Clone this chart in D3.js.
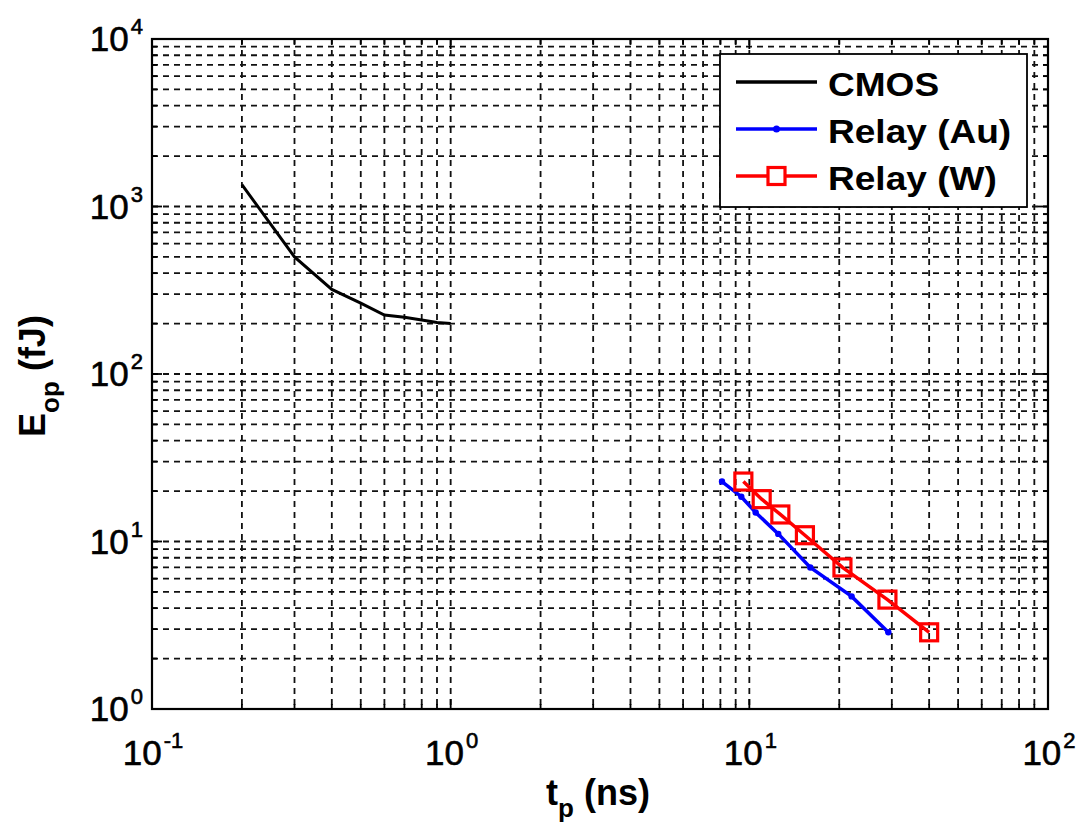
<!DOCTYPE html>
<html>
<head>
<meta charset="utf-8">
<script src="https://cdn.jsdelivr.net/npm/d3@7"></script>
<style>
  body { margin: 0; background: #fff; }
  text { font-family: Arial, "Liberation Sans", sans-serif; fill: #000; }
</style>
</head>
<body>
<svg id="chart" width="1077" height="830"></svg>
<script>
// Switching energy vs. propagation delay
const cmosTp = [0.2, 0.3, 0.4, 0.5, 0.6, 0.7, 0.8, 0.9, 1.0];
const cmosE  = [1350, 500, 320, 265, 225, 218, 210, 203, 200];

const auTp = [8.1, 9.4, 10.5, 12.5, 16, 22, 29.2];
const auE  = [22.8, 18.5, 14.9, 11.1, 7.0, 4.7, 2.87];

const wTp = [9.55, 11.0, 12.7, 15.35, 20.5, 29.0, 40.0];
const wE  = [22.8, 17.9, 14.5, 10.9, 7.0, 4.5, 2.87];

const seriesNames = ["CMOS", "Relay (Au)", "Relay (W)"];
const seriesColors = ["#000000", "#0000ff", "#ff0000"];

const xDecades = [-1, 0, 1, 2];
const yDecades = [0, 1, 2, 3, 4];
const xLabel = ["t", "p", " (ns)"];
const yLabel = ["E", "op", " (fJ)"];

const svg = d3.select("#chart");
const plot = { left: 152, right: 1048, top: 39, bottom: 709 };

const x = d3.scaleLog().domain([0.1, 100]).range([plot.left, plot.right]);
const y = d3.scaleLog().domain([1, 1e4]).range([plot.bottom, plot.top]);

// all grid values (1..9 within each decade)
function logTicks(decades) {
  const out = [];
  for (let i = 0; i < decades.length; i++) {
    const d = decades[i];
    if (i === decades.length - 1) { out.push({ v: Math.pow(10, d), major: true }); break; }
    for (let m = 1; m <= 9; m++) out.push({ v: m * Math.pow(10, d), major: m === 1 });
  }
  return out;
}
const xt = logTicks(xDecades);
const yt = logTicks(yDecades);

const grid = svg.append("g")
  .attr("stroke", "#111").attr("stroke-width", 1.8)
  .attr("stroke-dasharray", "6,5").attr("fill", "none");

xt.filter(t => t.v > 0.1 && t.v < 100).forEach(t => {
  grid.append("line")
    .attr("x1", x(t.v)).attr("x2", x(t.v))
    .attr("y1", plot.top).attr("y2", plot.bottom);
});
yt.filter(t => t.v > 1 && t.v < 1e4).forEach(t => {
  grid.append("line")
    .attr("x1", plot.left).attr("x2", plot.right)
    .attr("y1", y(t.v)).attr("y2", y(t.v));
});

// inward ticks on all four sides
const ticks = svg.append("g").attr("stroke", "#000").attr("stroke-width", 1.8);
xt.forEach(t => {
  const len = t.major ? 10 : 5;
  const px = x(t.v);
  ticks.append("line").attr("x1", px).attr("x2", px).attr("y1", plot.bottom).attr("y2", plot.bottom - len);
  ticks.append("line").attr("x1", px).attr("x2", px).attr("y1", plot.top).attr("y2", plot.top + len);
});
yt.forEach(t => {
  const len = t.major ? 10 : 5;
  const py = y(t.v);
  ticks.append("line").attr("x1", plot.left).attr("x2", plot.left + len).attr("y1", py).attr("y2", py);
  ticks.append("line").attr("x1", plot.right).attr("x2", plot.right - len).attr("y1", py).attr("y2", py);
});

// axes box
svg.append("rect")
  .attr("x", plot.left).attr("y", plot.top)
  .attr("width", plot.right - plot.left).attr("height", plot.bottom - plot.top)
  .attr("fill", "none").attr("stroke", "#000").attr("stroke-width", 2.2);

// tick labels: 10^n
function powerLabel(g, exp, px, py, anchor) {
  const t = g.append("text").attr("x", px).attr("y", py)
    .attr("text-anchor", anchor).attr("font-size", 35)
    .attr("stroke", "#000").attr("stroke-width", 0.6);
  t.append("tspan").text("10");
  t.append("tspan").attr("font-size", 22).attr("dy", -17).attr("dx", 2).text(String(exp));
  return t;
}
const labels = svg.append("g");
xDecades.forEach(d => powerLabel(labels, d, x(Math.pow(10, d)) + 1, 765, "middle"));
yDecades.forEach(d => powerLabel(labels, d, 143, y(Math.pow(10, d)) + 12, "end"));

// axis titles
const xt1 = svg.append("text").attr("x", (plot.left + plot.right) / 2 - 2).attr("y", 805)
  .attr("text-anchor", "middle").attr("font-size", 36).attr("font-weight", "bold");
xt1.append("tspan").text(xLabel[0]);
xt1.append("tspan").attr("font-size", 26).attr("dy", 12).text(xLabel[1]);
xt1.append("tspan").attr("dy", -12).text(xLabel[2]);

const yt1 = svg.append("text").attr("transform", "translate(45,376) rotate(-90)")
  .attr("text-anchor", "middle").attr("font-size", 36).attr("font-weight", "bold");
yt1.append("tspan").text(yLabel[0]);
yt1.append("tspan").attr("font-size", 26).attr("dy", 14).text(yLabel[1]);
yt1.append("tspan").attr("dy", -14).text(yLabel[2]);

// data lines
const line = d3.line().x(d => x(d[0])).y(d => y(d[1]));
const cmos = d3.zip(cmosTp, cmosE);
const au = d3.zip(auTp, auE);
const w = d3.zip(wTp, wE);

svg.append("path").datum(cmos).attr("d", line)
  .attr("fill", "none").attr("stroke", seriesColors[0]).attr("stroke-width", 3);

svg.append("path").datum(au).attr("d", line)
  .attr("fill", "none").attr("stroke", seriesColors[1]).attr("stroke-width", 3.5);
svg.append("g").selectAll("circle").data(au).join("circle")
  .attr("cx", d => x(d[0])).attr("cy", d => y(d[1])).attr("r", 3.2)
  .attr("fill", seriesColors[1]);

svg.append("path").datum(w).attr("d", line)
  .attr("fill", "none").attr("stroke", seriesColors[2]).attr("stroke-width", 3.5);
const sq = 17;
svg.append("g").selectAll("rect").data(w).join("rect")
  .attr("x", d => x(d[0]) - sq / 2).attr("y", d => y(d[1]) - sq / 2)
  .attr("width", sq).attr("height", sq)
  .attr("fill", "none").attr("stroke", seriesColors[2]).attr("stroke-width", 3.2);

// legend
const leg = svg.append("g");
leg.append("rect").attr("x", 720).attr("y", 54).attr("width", 307).attr("height", 153)
  .attr("fill", "#fff").attr("stroke", "#000").attr("stroke-width", 1.8);
seriesNames.forEach((name, i) => {
  const ly = 82 + i * 47;
  leg.append("line").attr("x1", 736).attr("x2", 817).attr("y1", ly).attr("y2", ly)
    .attr("stroke", seriesColors[i]).attr("stroke-width", 3.5);
  if (i === 1) {
    leg.append("circle").attr("cx", 776.5).attr("cy", ly).attr("r", 3.5).attr("fill", seriesColors[i]);
  }
  if (i === 2) {
    leg.append("rect").attr("x", 776.5 - sq / 2).attr("y", ly - sq / 2).attr("width", sq).attr("height", sq)
      .attr("fill", "#fff").attr("stroke", seriesColors[i]).attr("stroke-width", 3.2);
  }
  leg.append("text").attr("transform", `translate(828,${ly + 14}) scale(1.09,1)`)
    .attr("font-size", 34).attr("font-weight", "bold").text(name);
});
</script>
</body>
</html>
